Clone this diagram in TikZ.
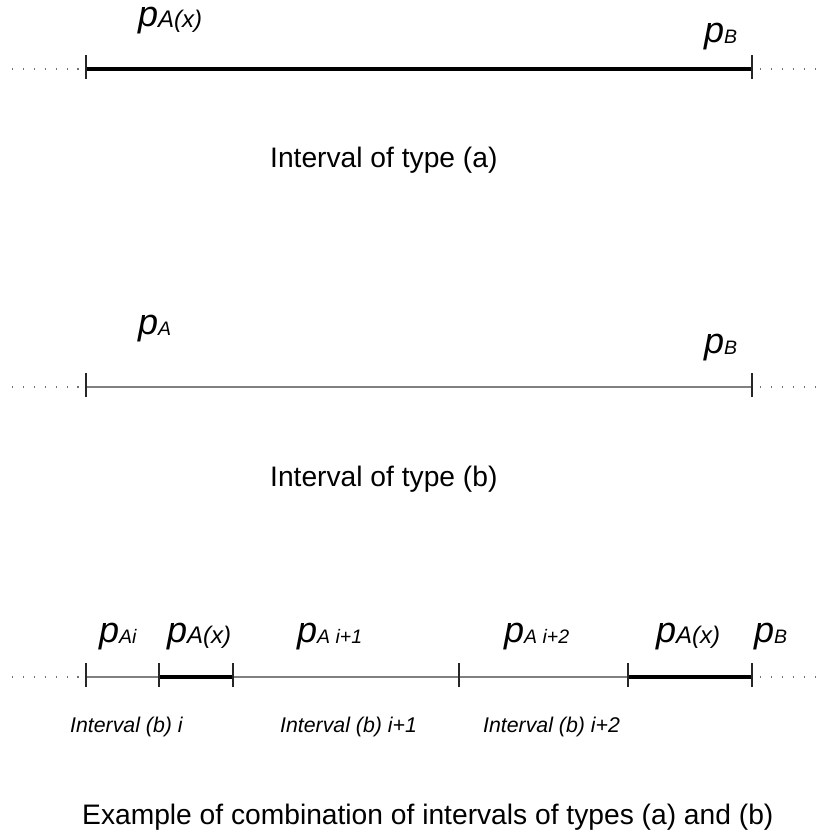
\documentclass[tikz,border=0pt]{standalone}
\usepackage{fontspec}
\setmainfont{Liberation Sans}
\newcommand\pbig{\fontsize{36}{40}\selectfont\itshape}
\newcommand\psub{\fontsize{19.5}{22}\selectfont\itshape}
\newcommand\psubx{\fontsize{24}{27}\selectfont\itshape}
\newcommand\plab[1]{{\pbig p}{\psub\raisebox{-1pt}{#1}}}
\newcommand\plabx[1]{{\pbig p}{\psubx\raisebox{-1pt}{#1}}}
\begin{document}
\begin{tikzpicture}[x=1pt,y=-1pt,
  heavy/.style={line width=4pt,black},
  light/.style={line width=1.8pt,black!50},
  dots/.style={line width=1.6pt,black!55,dash pattern=on 1.3pt off 9.6pt},
  tickmark/.style={line width=1.2pt,black!85},
  plabel/.style={anchor=base west,inner sep=0pt,text height=20pt,text depth=8pt},
  bigtext/.style={anchor=base west,inner sep=0pt,font=\fontsize{28.2}{32}\selectfont},
  smalltext/.style={anchor=base west,inner sep=0pt,font=\fontsize{21.3}{24}\selectfont\itshape}]
\useasboundingbox (0,0) rectangle (819,834);

% ---------- type (a) ----------
\coordinate (a0) at (12,69);
\coordinate (a1) at (86,69);
\coordinate (a2) at (752,69);
\coordinate (a3) at (815,69);
\draw[dots] (a0) -- (a1);
\draw[dots] ([xshift=8pt]a2) -- (a3);
\draw[heavy] (a1) -- (a2);
\foreach \t in {a1,a2} \draw[tickmark] ([yshift=-10pt]\t) -- ([yshift=14pt]\t);
\node[plabel] (pax) at (138,27) {\plabx{A(x)}};
\node[plabel] (pb1) at (704,43) {\plab{B}};
\node[bigtext] (ta) at (270,168) {Interval of type (a)};

% ---------- type (b) ----------
\coordinate (b0) at (12,387);
\coordinate (b1) at (86,387);
\coordinate (b2) at (752,387);
\coordinate (b3) at (815,387);
\draw[dots] (b0) -- (b1);
\draw[dots] ([xshift=8pt]b2) -- (b3);
\draw[light] (b1) -- (b2);
\foreach \t in {b1,b2} \draw[tickmark] ([yshift=-10pt]\t) -- ([yshift=14pt]\t);
\node[plabel] (pa2) at (138,334) {\plab{A}};
\node[plabel] (pb2) at (704,353) {\plab{B}};
\node[bigtext] (tb) at (270,486) {Interval of type (b)};

% ---------- combination ----------
\coordinate (c0) at (12,677);
\coordinate (c1) at (86,677);
\coordinate (c2) at (159,677);
\coordinate (c3) at (233,677);
\coordinate (c4) at (459,677);
\coordinate (c5) at (628,677);
\coordinate (c6) at (752,677);
\coordinate (c7) at (815,677);
\draw[dots] (c0) -- (c1);
\draw[dots] ([xshift=8pt]c6) -- (c7);
\draw[light] (c1) -- (c6);
\draw[heavy] (c2) -- (c3);
\draw[heavy] (c5) -- (c6);
\foreach \t in {c1,c2,c3,c4,c5,c6} \draw[tickmark] ([yshift=-10pt]\t) -- ([yshift=14pt]\t);
\node[plabel] (q1) at (99,642) {\plab{Ai}};
\node[plabel] (q2) at (167,642) {\plabx{A(x)}};
\node[plabel] (q3) at (297,642) {\plab{A i+1}};
\node[plabel] (q4) at (504,642) {\plab{A i+2}};
\node[plabel] (q5) at (656,642) {\plabx{A(x)}};
\node[plabel] (q6) at (754,642) {\plab{B}};
\node[smalltext] (s1) at (70,732) {Interval (b) i};
\node[smalltext] (s2) at (280,732) {Interval (b) i+1};
\node[smalltext] (s3) at (483,732) {Interval (b) i+2};
\node[bigtext] (cap) at (82,824) {Example of combination of intervals of types (a) and (b)};
\end{tikzpicture}
\end{document}
